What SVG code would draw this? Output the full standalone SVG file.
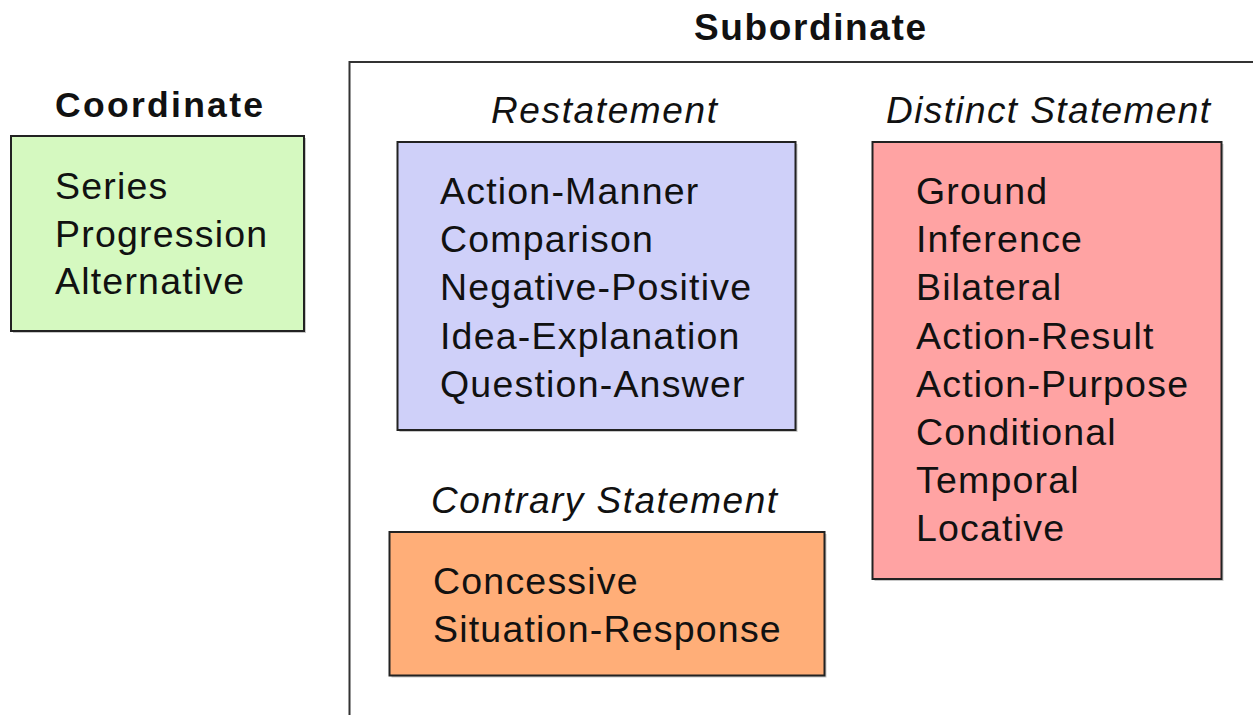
<svg xmlns="http://www.w3.org/2000/svg" width="1253" height="715" viewBox="0 0 1253 715">
  <style>
    .box { stroke: #222; stroke-width: 2; }
    .shadow { fill: #c8c8c8; }
    .item { font-family: "Liberation Sans", Arial, Helvetica, sans-serif; font-size: 37.5px; letter-spacing: 1.2px; fill: #111; }
    .head { font-family: "Liberation Sans", Arial, Helvetica, sans-serif; font-weight: bold; fill: #111; text-anchor: middle; }
    .sub { font-family: "Liberation Sans", Arial, Helvetica, sans-serif; font-style: italic; font-size: 37px; fill: #111; text-anchor: middle; }
  </style>
  <rect width="1253" height="715" fill="#ffffff"/>

  <g id="subordinate">
    <rect x="349.5" y="62" width="1000" height="1000" fill="none" stroke="#333" stroke-width="2"/>
    <text class="head" x="810" y="40" font-size="37" textLength="232" lengthAdjust="spacing">Subordinate</text>
  </g>

  <g id="coordinate">
    <text class="head" x="159" y="117" font-size="35.5" textLength="208" lengthAdjust="spacing">Coordinate</text>
    <rect class="shadow" x="13" y="138" width="293" height="195"/>
    <rect class="box" x="11" y="136" width="293" height="195" fill="#d5f9c0"/>
    <text class="item" x="55" y="199">Series</text>
    <text class="item" x="55" y="246.5">Progression</text>
    <text class="item" x="55" y="294">Alternative</text>
  </g>

  <g id="restatement">
    <text class="sub" x="604" y="123" textLength="226" lengthAdjust="spacing">Restatement</text>
    <rect class="shadow" x="399.5" y="144" width="398" height="288"/>
    <rect class="box" x="397.5" y="142" width="398" height="288" fill="#cfd0f9"/>
    <text class="item" x="440" y="204">Action-Manner</text>
    <text class="item" x="440" y="252.2">Comparison</text>
    <text class="item" x="440" y="300.4">Negative-Positive</text>
    <text class="item" x="440" y="348.6">Idea-Explanation</text>
    <text class="item" x="440" y="396.8">Question-Answer</text>
  </g>

  <g id="distinct">
    <text class="sub" x="1048" y="123" textLength="324" lengthAdjust="spacing">Distinct Statement</text>
    <rect class="shadow" x="874.5" y="144" width="349" height="437"/>
    <rect class="box" x="872.5" y="142" width="349" height="437" fill="#ffa3a3"/>
    <text class="item" x="916" y="204">Ground</text>
    <text class="item" x="916" y="252.2">Inference</text>
    <text class="item" x="916" y="300.4">Bilateral</text>
    <text class="item" x="916" y="348.6">Action-Result</text>
    <text class="item" x="916" y="396.8">Action-Purpose</text>
    <text class="item" x="916" y="445">Conditional</text>
    <text class="item" x="916" y="493.2">Temporal</text>
    <text class="item" x="916" y="541.4">Locative</text>
  </g>

  <g id="contrary">
    <text class="sub" x="604" y="513" textLength="346" lengthAdjust="spacing">Contrary Statement</text>
    <rect class="shadow" x="391.5" y="534" width="435" height="143.5"/>
    <rect class="box" x="389.5" y="532" width="435" height="143.5" fill="#ffae78"/>
    <text class="item" x="433" y="594">Concessive</text>
    <text class="item" x="433" y="642">Situation-Response</text>
  </g>

  <g id="connectors"></g>
</svg>
